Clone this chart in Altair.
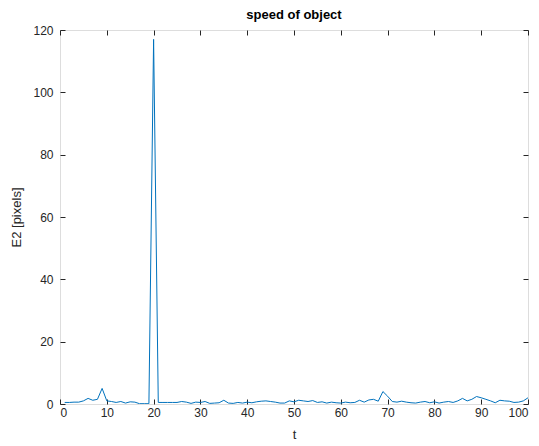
import altair as alt
import pandas as pd

t = list(range(1, 101))
e2 = [0.5, 0.5, 0.6, 0.6, 1.0, 1.8, 1.2, 1.5, 5.0, 1.0,
      0.8, 0.5, 0.8, 0.3, 0.7, 0.6, 0.1, 0.1, 0.1, 117.0,
      0.5, 0.5, 0.5, 0.5, 0.5, 0.8, 0.6, 0.2, 0.6, 0.5,
      0.8, 0.2, 0.3, 0.4, 1.2, 0.3, 0.2, 0.5, 0.3, 0.6,
      0.4, 0.7, 0.9, 1.0, 0.8, 0.6, 0.3, 0.3, 1.0, 0.7,
      1.2, 1.0, 0.8, 1.1, 0.5, 0.7, 0.3, 0.6, 0.4, 0.3,
      0.6, 0.4, 0.5, 1.2, 0.6, 1.3, 1.5, 0.9, 4.0, 2.5,
      0.8, 0.6, 0.9, 0.6, 0.4, 0.3, 0.6, 0.8, 0.4, 0.7,
      0.3, 0.6, 0.8, 0.5, 1.0, 1.8, 1.0, 1.5, 2.4, 2.0,
      1.5, 1.0, 0.4, 1.2, 1.0, 0.9, 0.5, 0.6, 1.0, 2.0]

df = pd.DataFrame({"t": t, "E2": e2})

xt = list(range(0, 101, 10))
yt = list(range(0, 121, 20))
W, H = 468, 374
FONT = "Liberation Sans"
AX = "#262626"

xs = alt.Scale(domain=[0, 100], nice=False, zero=False)
ys = alt.Scale(domain=[0, 120], nice=False)

base = alt.Chart(df)

main = base.mark_line(color="#0072BD", strokeWidth=1, clip=True).encode(
    x=alt.X("t:Q", scale=xs, title="t",
            axis=alt.Axis(values=xt, tickSize=0, domain=False, grid=False,
                          labelFont=FONT, labelFontSize=12, labelColor=AX,
                          labelPadding=3, titleFont=FONT, titleFontSize=13,
                          titleFontWeight="normal", titleColor=AX, titlePadding=10)),
    y=alt.Y("E2:Q", scale=ys, title="E2 [pixels]",
            axis=alt.Axis(values=yt, tickSize=0, domain=False, grid=False,
                          labelFont=FONT, labelFontSize=12, labelColor=AX,
                          labelPadding=7, titleFont=FONT, titleFontSize=13,
                          titleFontWeight="normal", titleColor=AX, titlePadding=9)),
)

tick_style = dict(labels=False, domain=False, grid=False, tickSize=5,
                  tickColor=AX, tickWidth=1, title=None)

inner1 = base.mark_line(opacity=0).encode(
    x=alt.X("t:Q", scale=xs, axis=alt.Axis(values=xt, orient="top", offset=-H, **tick_style)),
    y=alt.Y("E2:Q", scale=ys, axis=alt.Axis(values=yt, orient="right", offset=-W, **tick_style)),
)
inner2 = base.mark_line(opacity=0).encode(
    x=alt.X("t:Q", scale=xs, axis=alt.Axis(values=xt, orient="bottom", offset=-H, **tick_style)),
    y=alt.Y("E2:Q", scale=ys, axis=alt.Axis(values=yt, orient="left", offset=-W, **tick_style)),
)

chart = alt.layer(main, inner1, inner2).resolve_axis(x="independent", y="independent").properties(
    width=W, height=H,
    title=alt.TitleParams("speed of object", font=FONT, fontSize=13, fontWeight="bold",
                          color="#000000", offset=2),
    padding={"left": 52, "top": 22, "right": 3, "bottom": 42},
    autosize=alt.AutoSizeParams(type="none"),
).configure_view(stroke=AX, strokeWidth=1).configure(background="white")

chart.save("out.html", embed_options={"renderer": "svg", "actions": False})
